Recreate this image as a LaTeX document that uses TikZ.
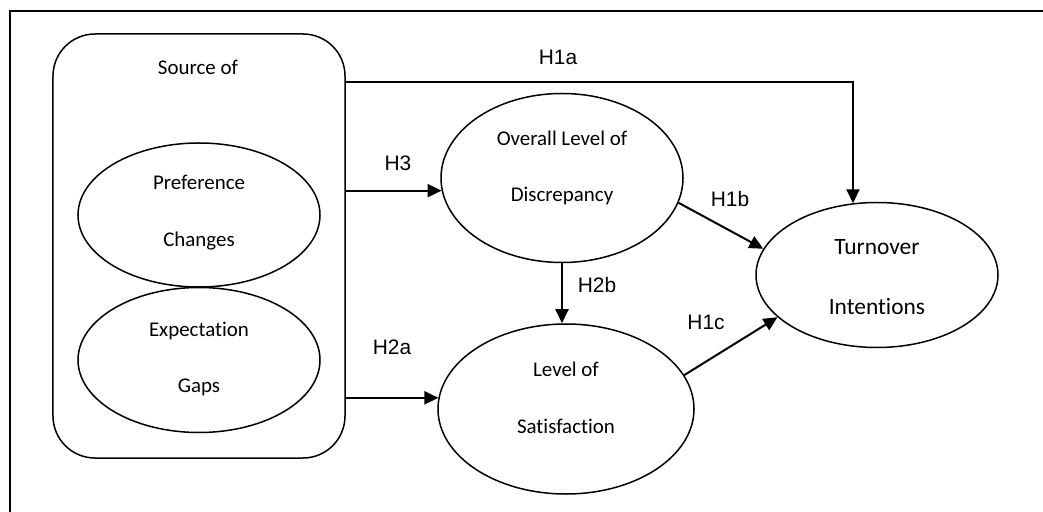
\documentclass[tikz,border=0pt]{standalone}
\usepackage{fontspec}
\setmainfont{Carlito}[Ligatures=NoCommon]
\newfontfamily\arialfont{Liberation Sans}
\usetikzlibrary{shapes.geometric,arrows.meta}

\tikzset{
  blob/.style={draw,ellipse,line width=1.5bp,inner sep=0pt},
  words/.style={align=center,font=\fontsize{21}{57}\selectfont},
  hyp/.style={font=\arialfont\fontsize{21}{25}\selectfont},
  arr/.style={line width=2bp,-{Triangle[length=14bp,width=13bp]}}
}

\begin{document}
\begin{tikzpicture}[x=1bp,y=-1bp]
\useasboundingbox (0,0) rectangle (1043,512);
\draw[line width=2bp] (10,512) -- (10,11) -- (1043,11);

% sources
\node[draw,rectangle,rounded corners=42bp,line width=1.5bp,minimum width=292bp,minimum height=424bp] (src) at (199,246) {};
\node[words] (srctxt) at (198,67) {Source of};
\node[blob,minimum width=242bp,minimum height=144bp] (pref) at (199,215) {};
\node[words] (preftxt) at (199,213) {Preference\\Changes};
\node[blob,minimum width=242bp,minimum height=145bp] (expt) at (199,360) {};
\node[words] (expttxt) at (199,359) {Expectation\\Gaps};

% outcomes
\node[blob,minimum width=242bp,minimum height=169bp] (disc) at (562,178) {};
\node[words] (disctxt) at (562,168) {Overall Level of\\Discrepancy};
\node[blob,minimum width=256bp,minimum height=170bp] (sat) at (566,409) {};
\node[words] (sattxt) at (566,398) {Level of\\Satisfaction};
\node[blob,minimum width=242bp,minimum height=145bp] (turn) at (877,275) {};
\node[words,font=\fontsize{23.5}{60}\selectfont] (turntxt) at (877,277) {Turnover\\Intentions};

% paths
\coordinate (bend) at (853,82);
\draw[arr] (src.east |- bend) -- (bend) -- (bend |- turn.109);
\draw[arr] (src.east |- disc.186) -- (disc.186);
\draw[arr] (src.east |- sat.175) -- (sat.175);
\draw[arr] (disc.south) -- (disc.south |- sat.north);
\draw[arr] (disc.-12) -- (turn.167);
\draw[arr] (sat.16) -- (turn.203);

\node[hyp] (h1a) at (558,57) {H1a};
\node[hyp] (h3) at (398,163) {H3};
\node[hyp] (h2a) at (392,347) {H2a};
\node[hyp] (h2b) at (597,285) {H2b};
\node[hyp] (h1b) at (730,199) {H1b};
\node[hyp] (h1c) at (706,322) {H1c};
\end{tikzpicture}
\end{document}
